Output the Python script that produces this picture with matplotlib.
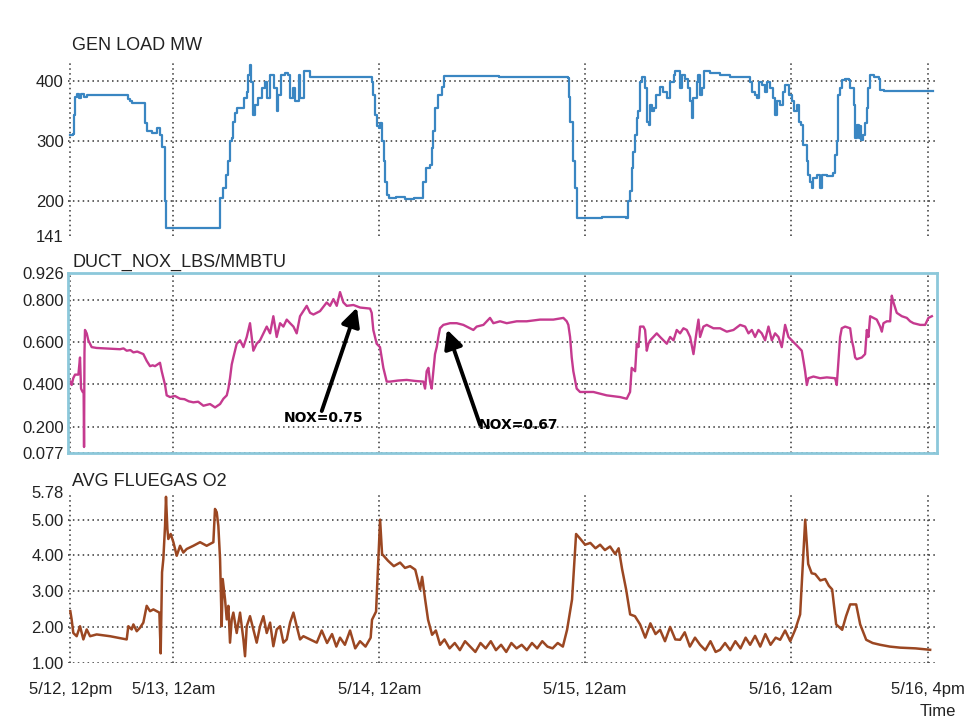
import matplotlib
matplotlib.use("Agg")
import matplotlib.pyplot as plt

plt.rcParams['font.family'] = ['Liberation Sans', 'DejaVu Sans']

# hours after 5/12 12pm
load_h = [0, 0.3, 0.4, 0.6, 0.8, 1.0, 1.3, 1.6, 2.0, 2.3, 6.5, 6.7, 6.9, 7.2, 8.5, 8.7, 8.9, 9.5,
          10.1, 10.4, 10.7, 11.0, 11.2, 17.4, 17.5, 17.8, 18.2, 18.4, 18.6, 18.8, 19.0, 19.2, 19.4,
          20.0, 20.2, 20.6, 20.75, 20.95, 21.1, 21.3, 21.5, 21.9, 22.3, 22.7, 22.9, 23.3, 23.7,
          24.05, 24.25, 24.6, 25.0, 25.4, 25.6, 26.0, 26.2, 26.6, 26.8, 27.2, 27.7, 27.9, 34.9,
          35.1, 35.3, 35.5, 35.7, 36.0, 36.1, 36.3, 36.5, 36.7, 36.9, 37.1, 38.0, 39.0, 40.0, 40.9,
          41.1, 41.5, 41.9, 42.1, 42.3, 42.5, 42.9, 43.3, 43.5, 50, 58.0, 58.1, 58.2, 58.6, 58.8,
          59.0, 59.1, 62, 64.8, 65.0, 65.2, 65.4, 65.6, 65.8, 66.0, 66.2, 66.4, 66.6, 66.8, 67.0,
          67.2, 67.4, 67.6, 67.8, 68.0, 68.3, 68.7, 69.1, 69.5, 69.9, 70.3, 70.5, 70.9, 71.1, 71.3,
          71.6, 72.0, 72.2, 72.4, 72.6, 73.0, 73.2, 73.4, 73.6, 73.8, 74.6, 75.7, 76.9, 79.0, 79.2,
          79.4, 79.8, 80.0, 80.2, 80.6, 81.0, 81.2, 81.5, 81.9, 82.1, 82.3, 82.7, 83.1, 83.3, 83.7,
          84.1, 84.3, 84.7, 84.9, 85.2, 85.4, 85.8, 86.0, 86.2, 86.4, 86.6, 87.0, 87.4, 87.6, 88.2,
          88.9, 89.1, 89.3, 89.5, 89.7, 89.9, 90.3, 90.7, 90.9, 91.3, 91.5, 91.7, 91.9, 92.0, 92.2,
          92.4, 92.6, 92.8, 93.0, 93.2, 93.6, 94.2, 94.4, 94.8, 100.5]
load_mw = [310, 312, 343, 374, 379, 372, 378, 373, 377, 376, 376, 370, 366, 363, 363, 330, 316, 313,
           321, 310, 290, 200, 154, 154, 204, 221, 243, 266, 299, 304, 332, 346, 354,
           354, 371, 382, 410, 427, 399, 343, 360, 371, 388, 399, 371, 410, 388,
           349, 377, 410, 413, 410, 371, 388, 366, 410, 371, 416, 416, 407, 407,
           399, 377, 343, 324, 321, 330, 299, 266, 232, 210, 204, 206, 202, 204, 204,
           232, 254, 260, 288, 316, 354, 377, 390, 409, 407, 405, 374, 332, 266, 221,
           193, 171, 172, 171, 199, 216, 254, 282, 310, 338, 349, 399, 407, 407, 388,
           332, 327, 360, 349, 354, 377, 390, 382, 371, 399, 410, 416, 416, 388, 410,
           404, 388, 366, 338, 371, 399, 410, 377, 388, 416, 413, 410, 407, 407, 399,
           382, 377, 371, 399, 393, 382, 399, 388, 371, 343, 366, 360, 382, 393, 377,
           366, 349, 360, 332, 327, 293, 266, 243, 232, 221, 238, 243, 221, 243, 241,
           246, 277, 299, 377, 388, 402, 404, 402, 388, 360, 304, 327, 304, 324, 302,
           310, 329, 354, 388, 410, 407, 404, 385, 384, 384]

nox_h = [0, 0.16, 0.35, 0.55, 0.94, 1.13, 1.25, 1.44, 1.55, 1.6, 1.65, 1.71, 1.91, 2.10, 2.49, 3.07,
         5.79, 6.2, 6.57, 7.0, 7.35, 7.8, 8.51, 8.90, 9.29, 9.6, 9.87, 10.45, 10.65, 11.04, 11.23,
         11.62, 12.2, 12.79, 13.3, 13.8, 14.34, 14.9, 15.51, 16.28, 16.87, 17.45, 17.84, 18.23,
         18.42, 18.61, 18.81, 19.0, 19.39, 19.78, 20.17, 20.56, 20.94, 21.33, 21.72, 22.11, 22.5,
         22.89, 23.28, 23.66, 24.05, 24.44, 24.83, 25.22, 25.61, 26.0, 26.38, 26.77, 27.55, 27.94,
         28.33, 29.1, 29.88, 30.27, 30.66, 31.05, 31.43, 31.82, 32.21, 32.99, 33.77, 34.93, 35.12,
         35.31, 35.7, 36.09, 36.29, 36.48, 36.87, 37.26, 38.2, 39.2, 40.2, 41.14, 41.34, 41.53,
         41.73, 41.92, 42.11, 42.31, 42.5, 42.7, 42.89, 43.08, 43.47, 44.25, 45.03, 45.8, 46.58,
         46.97, 47.36, 48.14, 48.91, 49.3, 50.08, 50.86, 52.02, 53.19, 54.74, 56.29, 57.46, 57.85,
         58.04, 58.24, 58.43, 58.62, 59.01, 59.4, 60.96, 62.51, 64.06, 64.84, 65.23, 65.42, 65.82,
         66.01, 66.21, 66.4, 66.79, 66.98, 67.18, 67.37, 67.57, 67.95, 68.34, 68.73, 69.12, 69.51,
         69.9, 70.29, 70.67, 71.06, 71.45, 71.84, 72.23, 72.62, 73.01, 73.2, 73.39, 73.78, 74.17,
         74.95, 75.72, 76.5, 77.28, 78.06, 78.64, 79.03, 79.42, 79.8, 80.19, 80.58, 80.97, 81.36,
         81.75, 82.13, 82.52, 82.91, 83.3, 83.69, 84.08, 84.47, 84.85, 85.24, 85.44, 85.63, 85.83,
         86.02, 86.6, 87.38, 88.16, 89.13, 89.32, 89.52, 89.71, 89.9, 90.29, 90.88, 91.07, 91.26,
         91.46, 91.65, 92.24, 92.62, 92.82, 93.01, 93.21, 93.6, 93.98, 94.37, 94.57, 94.76, 95.15,
         95.54, 95.73, 95.93, 96.31, 96.9, 97.48, 97.87, 98.26, 99.04, 99.62, 100.0, 100.4]
nox_v = [0.413, 0.397, 0.43, 0.446, 0.446, 0.527, 0.380, 0.364, 0.364, 0.104, 0.55, 0.657, 0.641, 0.608, 0.576, 0.572,
         0.566, 0.57, 0.559, 0.562, 0.551, 0.555, 0.543, 0.511, 0.486, 0.49, 0.486, 0.502, 0.462, 0.397, 0.348,
         0.340, 0.345, 0.332, 0.33, 0.32, 0.315, 0.318, 0.299, 0.307, 0.291, 0.307, 0.332, 0.348,
         0.380, 0.429, 0.494, 0.527, 0.592, 0.608, 0.576, 0.624, 0.689, 0.559, 0.592, 0.608, 0.641,
         0.673, 0.641, 0.722, 0.624, 0.689, 0.673, 0.706, 0.689, 0.673, 0.641, 0.722, 0.771, 0.738,
         0.730, 0.746, 0.787, 0.771, 0.803, 0.771, 0.836, 0.787, 0.771, 0.775, 0.763, 0.758, 0.738,
         0.657, 0.592, 0.576, 0.527, 0.478, 0.413, 0.413, 0.418, 0.421, 0.416, 0.413, 0.380, 0.462,
         0.478, 0.413, 0.380, 0.462, 0.543, 0.576, 0.624, 0.665, 0.681, 0.689, 0.689, 0.681, 0.665,
         0.657, 0.673, 0.681, 0.714, 0.689, 0.698, 0.689, 0.698, 0.698, 0.706, 0.706, 0.714, 0.698,
         0.681, 0.624, 0.527, 0.462, 0.380, 0.364, 0.364, 0.348, 0.340, 0.332, 0.364, 0.478, 0.462,
         0.592, 0.576, 0.673, 0.673, 0.657, 0.559, 0.592, 0.608, 0.624, 0.641, 0.624, 0.608, 0.592,
         0.624, 0.608, 0.657, 0.641, 0.665, 0.657, 0.624, 0.543, 0.657, 0.706, 0.624, 0.673, 0.681,
         0.665, 0.665, 0.649, 0.657, 0.681, 0.673, 0.641, 0.657, 0.624, 0.657, 0.641, 0.608, 0.673,
         0.608, 0.641, 0.624, 0.576, 0.681, 0.624, 0.608, 0.592, 0.576, 0.559, 0.511, 0.462, 0.397,
         0.429, 0.437, 0.429, 0.433, 0.429, 0.397, 0.511, 0.624, 0.665, 0.673, 0.665, 0.608, 0.576,
         0.527, 0.519, 0.527, 0.543, 0.657, 0.624, 0.722, 0.714, 0.706, 0.673, 0.649, 0.689, 0.698,
         0.698, 0.819, 0.787, 0.738, 0.722, 0.714, 0.698, 0.689, 0.681, 0.681, 0.714, 0.722]

o2_h = [0, 0.16, 0.35, 0.74, 1.13, 1.52, 1.91, 2.3, 3.07, 4.63, 6.57, 6.76, 7.15, 7.35, 7.74, 8.13,
        8.51, 8.9, 9.29, 9.68, 10.07, 10.38, 10.53, 10.69, 10.84, 11.04, 11.15, 11.31, 11.42, 11.7,
        12.01, 12.4, 12.79, 13.17, 13.56, 14.34, 15.12, 15.89, 16.67, 16.86, 17.06, 17.25, 17.45,
        17.64, 17.76, 18.03, 18.23, 18.42, 18.61, 18.81, 19.0, 19.39, 19.78, 20.17, 20.36, 20.56,
        20.94, 21.33, 21.72, 22.11, 22.5, 22.89, 23.28, 23.66, 24.05, 24.44, 24.83, 25.22, 25.61,
        26.0, 26.38, 26.77, 27.16, 27.94, 28.72, 29.3, 29.92, 30.5, 31.0, 31.43, 32.0, 32.6, 33.2,
        33.76, 34.4, 35.0, 35.16, 35.63, 36.1, 36.33, 37.03, 37.7, 38.43, 39.0, 39.6, 40.2, 40.76,
        41.0, 41.35, 41.69, 42.16, 42.6, 43.09, 43.6, 44.2, 44.8, 45.4, 46.0, 46.6, 47.2, 47.8,
        48.4, 49.0, 49.6, 50.2, 50.8, 51.4, 52.0, 52.6, 53.2, 53.8, 54.4, 55.0, 55.6, 56.2, 56.8,
        57.4, 57.89, 58.47, 58.94, 59.41, 59.99, 60.6, 61.2, 61.74, 62.3, 62.9, 63.49, 63.9, 64.3,
        64.77, 65.24, 65.8, 66.4, 67.0, 67.6, 68.2, 68.73, 69.3, 69.9, 70.5, 71.06, 71.6, 72.2,
        72.8, 73.39, 74.0, 74.6, 75.2, 75.72, 76.3, 76.9, 77.5, 78.1, 78.7, 79.22, 79.8, 80.4,
        81.0, 81.6, 82.2, 82.72, 83.3, 83.9, 84.47, 85.05, 85.64, 85.99, 86.4, 86.8, 87.4, 87.97,
        88.4, 88.78, 89.25, 89.95, 90.4, 90.88, 91.58, 92.05, 92.75, 93.5, 94.38, 95.5, 96.71,
        98.5, 100.2]
o2_v = [2.44, 2.2, 1.83, 1.74, 2.02, 1.65, 1.93, 1.74, 1.79, 1.74, 1.65, 2.02, 1.93, 2.07, 1.88, 1.98,
        2.12, 2.59, 2.44, 2.49, 2.44, 2.40, 1.26, 3.53, 3.90, 4.83, 5.64, 4.74, 4.46, 4.6,
        4.37, 3.99, 4.27, 4.08, 4.18, 4.27, 4.37, 4.27, 4.37, 5.30, 5.21, 4.83, 3.90,
        2.02, 3.34, 2.77, 2.21, 2.59, 1.56, 2.21, 2.40, 1.83, 2.40, 1.65, 1.18, 2.02,
        2.30, 1.93, 1.56, 2.02, 2.30, 1.83, 2.12, 1.46, 1.93, 2.02, 1.56, 1.65, 2.12,
        2.40, 2.02, 1.65, 1.74, 1.65, 1.56, 1.9, 1.55, 1.8, 1.45, 1.7, 1.5, 1.9, 1.4,
        1.6, 1.45, 1.7, 2.2, 2.43, 5.0, 4.04, 3.85, 3.7, 3.8, 3.65, 3.7, 3.6, 3.05,
        3.4, 2.77, 2.2, 1.78, 1.9, 1.5, 1.65, 1.4, 1.55, 1.35, 1.6, 1.45, 1.3, 1.55,
        1.4, 1.6, 1.35, 1.5, 1.3, 1.55, 1.4, 1.5, 1.35, 1.55, 1.4, 1.6, 1.45, 1.4, 1.55,
        1.45, 1.92, 2.77, 4.6, 4.47, 4.3, 4.35, 4.2, 4.3, 4.15, 4.25, 4.04, 4.2, 3.62,
        3.05, 2.35, 2.3, 2.07, 1.7, 2.1, 1.8, 1.92, 1.6, 2.0, 1.65, 1.64, 1.85, 1.45,
        1.7, 1.5, 1.35, 1.6, 1.3, 1.36, 1.55, 1.35, 1.6, 1.4, 1.7, 1.5, 1.75, 1.45,
        1.8, 1.5, 1.7, 1.64, 1.9, 1.6, 1.92, 2.35, 5.0, 3.76, 3.5, 3.48, 3.3, 3.34,
        3.15, 3.05, 2.07, 1.92, 2.3, 2.63, 2.63, 2.07, 1.64, 1.55, 1.5, 1.45, 1.42,
        1.4, 1.36]

day_ticks = [0, 12, 36, 60, 84, 100]
day_labels = ["5/12, 12pm", "5/13, 12am", "5/14, 12am", "5/15, 12am", "5/16, 12am", "5/16, 4pm"]

load_ticks = [141, 200, 300, 400]
nox_ticks = [0.077, 0.200, 0.400, 0.600, 0.800, 0.926]
o2_ticks = [1.00, 2.00, 3.00, 4.00, 5.00, 5.78]

fig = plt.figure(figsize=(9.66, 7.21), dpi=100)
left, width = 68 / 966, 869 / 966
ax1 = fig.add_axes([left, 0.6727, width, 0.2441])
ax2 = fig.add_axes([left, 0.3721, width, 0.2492])
ax3 = fig.add_axes([left, 0.0809, width, 0.2370])

grid_kw = dict(color="#333333", linestyle=(0, (1, 2.2)), linewidth=1.1)

for ax in (ax1, ax2, ax3):
    ax.set_xlim(-0.27, 101)
    ax.set_xticks(day_ticks)
    ax.grid(True, **grid_kw)
    ax.tick_params(length=0, labelsize=12, colors="#222222", pad=3)
    for s in ax.spines.values():
        s.set_visible(False)

# load data is held between readings
ax1.plot(load_h, load_mw, color="#3a86c2", lw=1.6, drawstyle="steps-post")
ax1.set_ylim(141, 435)
ax1.set_yticks(load_ticks)
ax1.set_yticklabels([str(t) for t in load_ticks])
ax1.get_ygridlines()[0].set_visible(False)
ax1.set_xticklabels([])

ax2.plot(nox_h, nox_v, color="#c53a8f", lw=1.7)
ax2.set_ylim(0.077, 0.926)
ax2.set_yticks(nox_ticks)
ax2.set_yticklabels([f"{t:.3f}" for t in nox_ticks])
ax2.set_xticklabels([])
for s in ax2.spines.values():
    s.set_visible(True)
    s.set_color("#8cc8da")
    s.set_linewidth(2)

arrow = dict(arrowstyle="-|>", color="black", lw=2.8, mutation_scale=28, shrinkA=0, shrinkB=0)
ax2.annotate("", xy=(33.4, 0.763), xytext=(29.3, 0.274), arrowprops=arrow)
ax2.annotate("", xy=(43.9, 0.659), xytext=(47.75, 0.209), arrowprops=arrow)
ax2.text(29.5, 0.242, "NOX=0.75", fontsize=10, fontweight="bold", ha="center", va="center",
         family=["DejaVu Sans"])
ax2.text(52.2, 0.21, "NOX=0.67", fontsize=10, fontweight="bold", ha="center", va="center",
         family=["DejaVu Sans"])

ax3.plot(o2_h, o2_v, color="#9b4722", lw=1.8)
ax3.set_ylim(1.0, 5.78)
ax3.set_yticks(o2_ticks)
ax3.set_yticklabels([f"{t:.2f}" for t in o2_ticks])
ax3.get_ygridlines()[-1].set_visible(False)
ax3.set_xticklabels(day_labels)
ax3.tick_params(axis="x", pad=14)

fig.text(72 / 966, 1 - 45 / 721, "GEN LOAD MW", fontsize=13, va="center", color="#222222")
fig.text(72 / 966, 1 - 262 / 721, "DUCT_NOX_LBS/MMBTU", fontsize=13, va="center", color="#222222")
fig.text(72 / 966, 1 - 481 / 721, "AVG FLUEGAS O2", fontsize=13, va="center", color="#222222")
fig.text(0.99, 1 - 711 / 721, "Time", fontsize=12, ha="right", va="center", color="#222222")

fig.savefig("out.png", dpi=100)
